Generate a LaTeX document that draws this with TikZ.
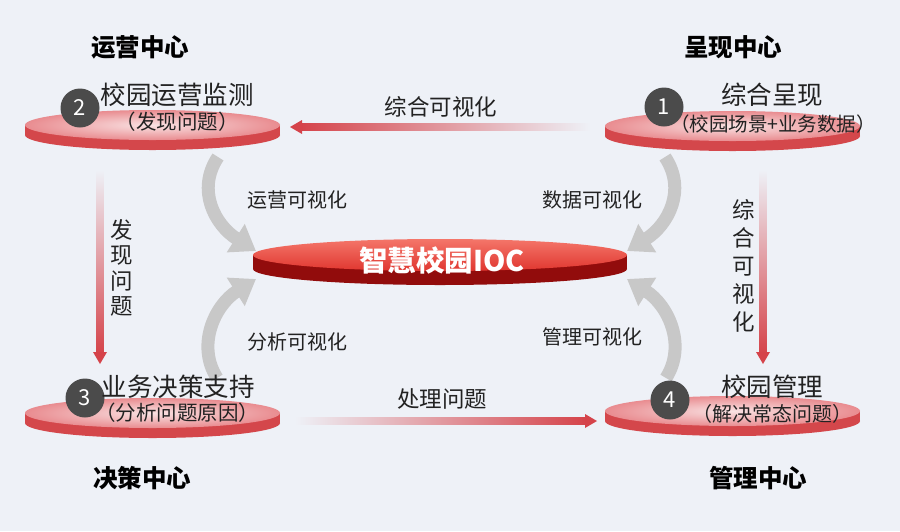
\documentclass[tikz,border=0pt]{standalone}
\usepackage{fontspec}
\setmainfont{Noto Sans CJK SC}
\usetikzlibrary{arrows.meta,calc}
\definecolor{bg}{HTML}{EEF1F7}
\definecolor{ared}{HTML}{D5434A}
\definecolor{rimred}{HTML}{D4474B}
\definecolor{faceout}{HTML}{E98C90}
\definecolor{facein}{HTML}{F9E2E3}
\definecolor{cface1}{HTML}{F4766A}
\definecolor{cface2}{HTML}{E0362F}
\definecolor{crim}{HTML}{920C0C}
\definecolor{numgrey}{HTML}{4B4B4B}
\definecolor{arrgrey}{HTML}{C8C8C8}
\definecolor{txt}{HTML}{222222}
\newcommand\smalldisc[2]{%
  \coordinate (#1) at #2;
  \fill[rimred] ($(#1)+(-127.5,0)$) rectangle ($(#1)+(127.5,10)$);
  \fill[rimred] ($(#1)+(0,10)$) ellipse [x radius=127.5, y radius=15];
  \shade[inner color=facein, outer color=faceout] (#1) ellipse [x radius=127.5, y radius=15];
}
\begin{document}
\begin{tikzpicture}[x=1pt,y=-1pt,
  title/.style={font=\fontsize{24.5}{24.5}\selectfont\bfseries, text=black, inner sep=0},
  maintext/.style={font=\fontsize{25.5}{25.5}\selectfont, text=txt, inner sep=0},
  subtext/.style={font=\fontsize{20.5}{20.5}\selectfont, text=txt, inner sep=0},
  lab/.style={font=\fontsize{20}{20}\selectfont, text=txt, inner sep=0},
  biglab/.style={font=\fontsize{22.5}{22.5}\selectfont, text=txt, inner sep=0},
  numc/.style={circle, fill=numgrey, minimum size=39pt, inner sep=0, text=white, font=\fontsize{22}{22}\selectfont},
  garrow/.style={draw=arrgrey, line width=13pt, -{Triangle[width=32pt,length=24pt]}}
]
\useasboundingbox[fill=bg] (0,0) rectangle (900,531);

% titles
\node[title] (tt2) at (140,47) {运营中心};
\node[title] (tt1) at (733,47) {呈现中心};
\node[title] (tt3) at (142,478) {决策中心};
\node[title] (tt4) at (758,478) {管理中心};

% grey curved arrows
\coordinate (g1s) at (218,157); \coordinate (g1e) at (256,251);
\coordinate (g2s) at (217,378); \coordinate (g2e) at (256,279);
\coordinate (g3s) at (665,157); \coordinate (g3e) at (627,251);
\coordinate (g4s) at (666,378); \coordinate (g4e) at (627,279);
\draw[garrow] (g1s) .. controls (196,190) and (215,225) .. (g1e);
\draw[garrow] (g2s) .. controls (196,345) and (215,305) .. (g2e);
\draw[garrow] (g3s) .. controls (687,190) and (668,225) .. (g3e);
\draw[garrow] (g4s) .. controls (687,345) and (668,305) .. (g4e);

% discs
\smalldisc{d2}{(152.5,125)}
\smalldisc{d1}{(732.5,126)}
\smalldisc{d3}{(152.5,413)}
\smalldisc{d4}{(732.5,411)}

% central disc
\coordinate (c) at (440,255);
\fill[crim] ($(c)+(-187,0)$) rectangle ($(c)+(187,14)$);
\fill[crim] ($(c)+(0,14)$) ellipse [x radius=187, y radius=16];
\shade[top color=cface1, bottom color=cface2] (c) ellipse [x radius=187, y radius=16];
\node[font=\fontsize{28.5}{28.5}\selectfont\bfseries, text=white, inner sep=0] (ioc) at (442,260) {智慧校园IOC};

% red gradient arrows
\coordinate (a1s) at (590,127); \coordinate (a1e) at (290,127);
\shade[left color=ared, right color=bg] ($(a1e)+(10,-3.5)$) rectangle ($(a1s)+(0,3.5)$);
\fill[ared] (a1e) -- ++(12,-7) -- ++(0,14) -- cycle;

\coordinate (a2s) at (295,421); \coordinate (a2e) at (597,421);
\shade[left color=bg, right color=ared] ($(a2s)+(0,-3.5)$) rectangle ($(a2e)+(-10,3.5)$);
\fill[ared] (a2e) -- ++(-12,-7) -- ++(0,14) -- cycle;

\coordinate (a3s) at (100,170); \coordinate (a3e) at (100,364);
\shade[top color=bg, bottom color=ared] ($(a3s)+(-3.5,0)$) rectangle ($(a3e)+(3.5,-10)$);
\fill[ared] (a3e) -- ++(-7,-12) -- ++(14,0) -- cycle;

\coordinate (a4s) at (763,170); \coordinate (a4e) at (763,364);
\shade[top color=bg, bottom color=ared] ($(a4s)+(-3.5,0)$) rectangle ($(a4e)+(3.5,-10)$);
\fill[ared] (a4e) -- ++(-7,-12) -- ++(14,0) -- cycle;

% number circles
\node[numc] (n2) at (80,108) {2};
\node[numc] (n1) at (664,107) {1};
\node[numc] (n3) at (85,398) {3};
\node[numc] (n4) at (670,400) {4};

% node texts
\node[maintext] (m2) at (177,95) {校园运营监测};
\node[subtext] (s2) at (177,122) {（发现问题）};
\node[maintext] (m1) at (772,95) {综合呈现};
\node[subtext, font=\fontsize{19.5}{19.5}\selectfont] (s1) at (773,124) {（校园场景+业务数据）};
\node[maintext] (m3) at (178,387) {业务决策支持};
\node[subtext] (s3) at (177,413) {（分析问题原因）};
\node[maintext] (m4) at (772,387) {校园管理};
\node[subtext, font=\fontsize{20}{20}\selectfont] (s4) at (772,414) {（解决常态问题）};

% labels
\node[biglab] (l1) at (441,107) {综合可视化};
\node[biglab] (l2) at (442,399) {处理问题};
\node[biglab, align=center, font=\fontsize{22.5}{25.3}\selectfont] (l3) at (122,268) {发\\现\\问\\题};
\node[biglab, align=center, font=\fontsize{22.5}{28}\selectfont] (l4) at (744,266) {综\\合\\可\\视\\化};
\node[lab] (l5) at (297,200) {运营可视化};
\node[lab] (l6) at (592,200) {数据可视化};
\node[lab] (l7) at (297,342) {分析可视化};
\node[lab] (l8) at (592,337) {管理可视化};
\end{tikzpicture}
\end{document}
